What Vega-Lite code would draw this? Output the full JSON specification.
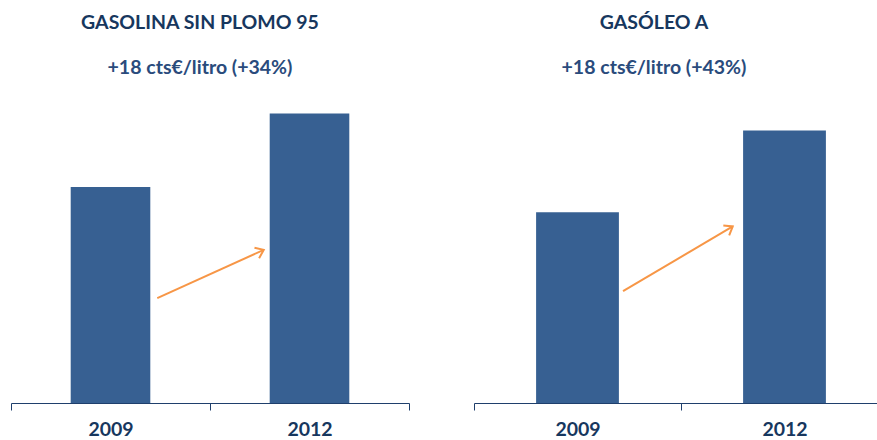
{
  "$schema": "https://vega.github.io/schema/vega-lite/v6.json",
  "datasets": {
    "bars": [
      {"combustible": "GASOLINA SIN PLOMO 95", "anio": "2009", "precio": 52.9},
      {"combustible": "GASOLINA SIN PLOMO 95", "anio": "2012", "precio": 70.9},
      {"combustible": "GASÓLEO A", "anio": "2009", "precio": 41.9},
      {"combustible": "GASÓLEO A", "anio": "2012", "precio": 59.9}
    ],
    "flechas": [
      {"combustible": "GASOLINA SIN PLOMO 95", "x0": 0.735, "y0": 25.7, "x1": 1.27, "y1": 37.5},
      {"combustible": "GASÓLEO A", "x0": 0.72, "y0": 24.6, "x1": 1.25, "y1": 38.8}
    ]
  },
  "padding": {"left": 10, "top": 13, "right": 0, "bottom": 0},
  "spacing": 63,
  "config": {
    "view": {"stroke": null},
    "font": "Lato",
    "title": {
      "font": "Lato", "fontSize": 19.5, "fontWeight": "bold", "color": "#17375E",
      "subtitleFont": "Lato", "subtitleFontSize": 19.5, "subtitleFontWeight": "bold", "subtitleColor": "#2A4B7C",
      "subtitlePadding": 25, "offset": 22, "anchor": "middle"
    },
    "axisX": {
      "domainColor": "#1F3F6C", "tickColor": "#1F3F6C", "domainWidth": 1, "tickWidth": 1, "tickSize": 7,
      "labelFont": "Lato", "labelFontSize": 19.5, "labelFontWeight": "bold", "labelColor": "#17375E",
      "labelPadding": 10, "labelAngle": 0, "grid": false, "title": null, "tickBand": "extent"
    }
  },
  "hconcat": [
    {
      "width": 398, "height": 303,
      "title": {"text": "GASOLINA SIN PLOMO 95", "subtitle": "+18 cts€/litro (+34%)", "dx": -10},
      "layer": [
        {
          "data": {"name": "bars"},
          "transform": [{"filter": "datum.combustible === 'GASOLINA SIN PLOMO 95'"}],
          "mark": {"type": "bar", "width": {"band": 0.4}, "color": "#376092"},
          "encoding": {
            "x": {"field": "anio", "type": "nominal", "scale": {"paddingInner": 0, "paddingOuter": 0}},
            "y": {"field": "precio", "type": "quantitative", "scale": {"domain": [0, 74.2], "nice": false, "zero": true}, "axis": null}
          }
        },
        {
          "data": {"name": "flechas"},
          "transform": [{"filter": "datum.combustible === 'GASOLINA SIN PLOMO 95'"}],
          "mark": {"type": "rule", "color": "#F79646", "strokeWidth": 2},
          "encoding": {
            "x": {"field": "x0", "type": "quantitative", "scale": {"domain": [0, 2], "nice": false, "zero": true}, "axis": null},
            "x2": {"field": "x1"},
            "y": {"field": "y0", "type": "quantitative"},
            "y2": {"field": "y1"}
          }
        },
        {
          "data": {"name": "flechas"},
          "transform": [{"filter": "datum.combustible === 'GASOLINA SIN PLOMO 95'"}],
          "mark": {"type": "point", "shape": "M -1 -0.75 L 0 0 L -1 0.75", "filled": false, "stroke": "#F79646", "strokeWidth": 2, "size": 230, "angle": 336, "opacity": 1},
          "encoding": {
            "x": {"field": "x1", "type": "quantitative", "scale": {"domain": [0, 2], "nice": false, "zero": true}, "axis": null},
            "y": {"field": "y1", "type": "quantitative"}
          }
        }
      ],
      "resolve": {"scale": {"x": "independent"}}
    },
    {
      "width": 406, "height": 303,
      "title": {"text": "GASÓLEO A", "subtitle": "+18 cts€/litro (+43%)", "dx": -23},
      "layer": [
        {
          "data": {"name": "bars"},
          "transform": [{"filter": "datum.combustible === 'GASÓLEO A'"}],
          "mark": {"type": "bar", "width": {"band": 0.4}, "color": "#376092"},
          "encoding": {
            "x": {"field": "anio", "type": "nominal", "scale": {"paddingInner": 0, "paddingOuter": 0, "range": [0, 414]}},
            "y": {"field": "precio", "type": "quantitative", "scale": {"domain": [0, 66.6], "nice": false, "zero": true}, "axis": null}
          }
        },
        {
          "data": {"name": "flechas"},
          "transform": [{"filter": "datum.combustible === 'GASÓLEO A'"}],
          "mark": {"type": "rule", "color": "#F79646", "strokeWidth": 2},
          "encoding": {
            "x": {"field": "x0", "type": "quantitative", "scale": {"domain": [0, 2], "nice": false, "zero": true, "range": [0, 414]}, "axis": null},
            "x2": {"field": "x1"},
            "y": {"field": "y0", "type": "quantitative"},
            "y2": {"field": "y1"}
          }
        },
        {
          "data": {"name": "flechas"},
          "transform": [{"filter": "datum.combustible === 'GASÓLEO A'"}],
          "mark": {"type": "point", "shape": "M -1 -0.75 L 0 0 L -1 0.75", "filled": false, "stroke": "#F79646", "strokeWidth": 2, "size": 230, "angle": 329, "opacity": 1},
          "encoding": {
            "x": {"field": "x1", "type": "quantitative", "scale": {"domain": [0, 2], "nice": false, "zero": true, "range": [0, 414]}, "axis": null},
            "y": {"field": "y1", "type": "quantitative"}
          }
        }
      ],
      "resolve": {"scale": {"x": "independent"}}
    }
  ]
}
